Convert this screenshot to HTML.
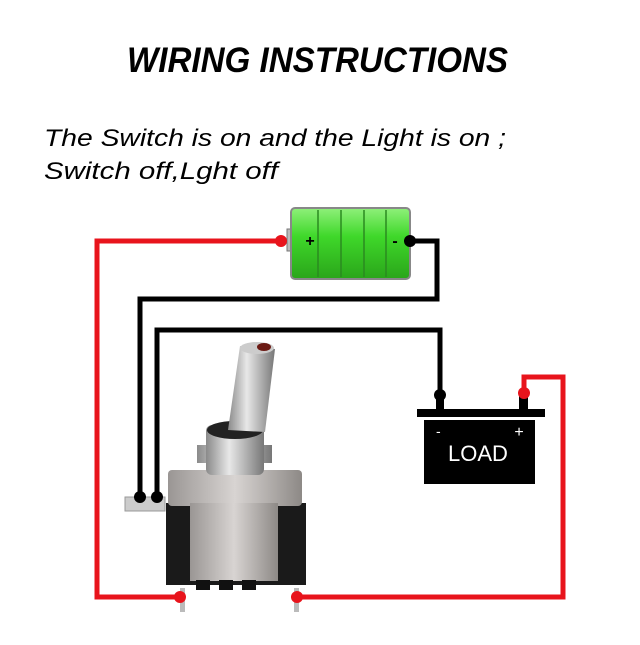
<!DOCTYPE html>
<html><head><style>
body{margin:0;background:#fff;width:640px;height:640px;overflow:hidden;font-family:"Liberation Sans",sans-serif}
</style></head><body>
<svg width="640" height="640" viewBox="0 0 640 640" xmlns="http://www.w3.org/2000/svg">
<defs>
<linearGradient id="g" x1="0" y1="0" x2="0" y2="1"><stop offset="0" stop-color="#8ff07a"/><stop offset="0.4" stop-color="#3fd82a"/><stop offset="1" stop-color="#2aa51a"/></linearGradient>
<linearGradient id="m" x1="0" y1="0" x2="1" y2="0"><stop offset="0" stop-color="#8a8a8a"/><stop offset="0.4" stop-color="#e8e8e8"/><stop offset="1" stop-color="#777"/></linearGradient>
<linearGradient id="mb" x1="0" y1="0" x2="1" y2="0"><stop offset="0" stop-color="#9a9694"/><stop offset="0.5" stop-color="#d8d4d2"/><stop offset="1" stop-color="#8d8986"/></linearGradient>
</defs>
<text x="127" y="72" textLength="381" lengthAdjust="spacingAndGlyphs" font-size="35" font-weight="bold" font-style="italic" fill="#000">WIRING INSTRUCTIONS</text>
<text x="44" y="146" textLength="462" lengthAdjust="spacingAndGlyphs" font-size="24" font-style="italic" fill="#000">The Switch is on and the Light is on ;</text>
<text x="44" y="179" textLength="234" lengthAdjust="spacingAndGlyphs" font-size="24" font-style="italic" fill="#000">Switch off,Lght off</text>
<g fill="none" stroke-width="5">
<polyline points="281,241 97,241 97,597 180,597" stroke="#e8141c"/>
<polyline points="524,393 524,377 563,377 563,597 297,597" stroke="#e8141c"/>
<polyline points="410,241 437,241 437,299 140,299 140,497" stroke="#000"/>
<polyline points="157,497 157,330 440,330 440,395" stroke="#000"/>
</g>
<rect x="287" y="229" width="6" height="22" fill="#bbb" stroke="#777"/>
<rect x="291" y="208" width="119" height="71" rx="4" fill="url(#g)" stroke="#888" stroke-width="2"/>
<g stroke="#2b8a20" stroke-width="1.5"><line x1="318" y1="210" x2="318" y2="277"/><line x1="341" y1="210" x2="341" y2="277"/><line x1="364" y1="210" x2="364" y2="277"/><line x1="386" y1="210" x2="386" y2="277"/></g>
<text x="310" y="246" font-size="16" font-weight="bold" text-anchor="middle">+</text>
<text x="395" y="246" font-size="16" font-weight="bold" text-anchor="middle">-</text>
<circle cx="281" cy="241" r="6" fill="#e8141c"/>
<circle cx="410" cy="241" r="6" fill="#000"/>
<rect x="417" y="409" width="128" height="8" fill="#000"/>
<rect x="436" y="395" width="8" height="15" fill="#000"/>
<rect x="519" y="393" width="9" height="17" fill="#000"/>
<circle cx="440" cy="395" r="6" fill="#000"/>
<circle cx="524" cy="393" r="6" fill="#e8141c"/>
<rect x="424" y="420" width="111" height="64" fill="#000"/>
<text x="436" y="436" font-size="14" fill="#fff">-</text>
<text x="519" y="437" font-size="16" fill="#fff" text-anchor="middle">+</text>
<text x="478" y="461" font-size="22" fill="#fff" text-anchor="middle">LOAD</text>
<rect x="125" y="497" width="40" height="14" fill="#ccc" stroke="#999"/>
<rect x="166" y="503" width="140" height="82" fill="#1a1a1a"/>
<rect x="168" y="470" width="134" height="36" rx="4" fill="url(#mb)"/>
<rect x="190" y="503" width="88" height="78" fill="url(#mb)"/>
<rect x="196" y="580" width="14" height="10" fill="#111"/><rect x="219" y="580" width="14" height="10" fill="#111"/><rect x="242" y="580" width="14" height="10" fill="#111"/>
<rect x="197" y="445" width="75" height="18" fill="url(#m)"/>
<rect x="206" y="425" width="58" height="50" rx="6" fill="url(#m)"/>
<ellipse cx="235" cy="430" rx="28" ry="9" fill="#222"/>
<polygon points="240,346 275,349 265,432 228,430" fill="url(#m)"/>
<ellipse cx="257" cy="348" rx="17" ry="6" fill="#ccc"/>
<ellipse cx="264" cy="347" rx="7" ry="4" fill="#6b1a14"/>
<rect x="180" y="588" width="5" height="24" fill="#bbb"/>
<rect x="294" y="588" width="5" height="24" fill="#bbb"/>
<circle cx="140" cy="497" r="6" fill="#000"/>
<circle cx="157" cy="497" r="6" fill="#000"/>
<circle cx="180" cy="597" r="6" fill="#e8141c"/>
<circle cx="297" cy="597" r="6" fill="#e8141c"/>
</svg>
</body></html>
